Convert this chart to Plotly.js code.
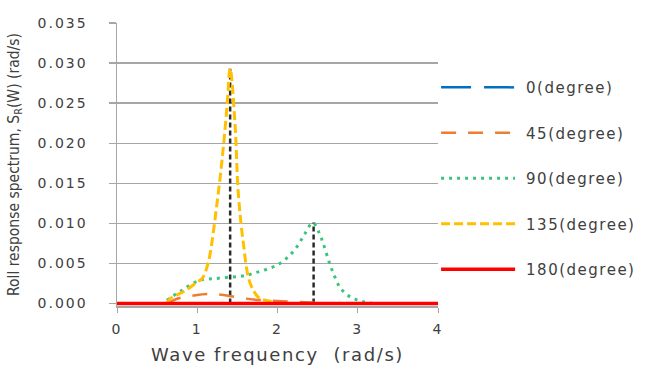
<!DOCTYPE html>
<html>
<head>
<meta charset="utf-8">
<script src="https://cdn.plot.ly/plotly-3.0.1.min.js"></script>
<style>
html,body{margin:0;padding:0;background:#fff;}
#chart{width:645px;height:379px;}
.ytick text, .xtick text {letter-spacing: 2px;}
.legendtext {letter-spacing: 1.5px; transform: translateX(6px);}
.g-xtitle text {letter-spacing: 1.6px;}
</style>
</head>
<body>
<div id="chart"></div>
<script>
// Series names
var seriesNames = ["0(degree)", "45(degree)", "90(degree)", "135(degree)", "180(degree)"];

// 0 degree (zero response, hidden under 180)
var x0 = [0, 4];
var y0 = [0, 0];

// 45 degree
var x45 = [0.62, 0.78, 0.95, 1.12, 1.3, 1.49, 1.7, 1.87, 2.05, 2.28, 2.5, 2.7];
var y45 = [0.0000, 0.0007, 0.0010, 0.0012, 0.0011, 0.0008, 0.0005, 0.0004, 0.0003, 0.0002, 0.0001, 0.0000];

// 90 degree
var x90 = [0.62, 0.8, 1.03, 1.2, 1.41, 1.6, 1.74, 1.9, 2.03, 2.15, 2.25, 2.34, 2.44, 2.52, 2.57, 2.65, 2.72, 2.78, 2.88, 2.98, 3.08, 3.19];
var y90 = [0.0004, 0.0016, 0.0029, 0.0031, 0.0033, 0.0035, 0.0039, 0.0044, 0.0050, 0.0060, 0.0072, 0.0087, 0.0101, 0.0088, 0.0075, 0.0050, 0.0032, 0.0020, 0.0010, 0.0005, 0.0002, 0.0000];

// 135 degree
var x135 = [0.62, 0.66, 0.85, 1.0, 1.06, 1.12, 1.16, 1.24, 1.31, 1.37, 1.41, 1.47, 1.51, 1.57, 1.66, 1.78, 1.86, 1.95];
var y135 = [0.0000, 0.0006, 0.0016, 0.0027, 0.0031, 0.0045, 0.0062, 0.0120, 0.0180, 0.0245, 0.0293, 0.0225, 0.0140, 0.0079, 0.0025, 0.0006, 0.0004, 0.0002];

// 180 degree
var x180 = [0, 4];
var y180 = [0, 0];

// Peak markers (black dashed verticals)
var peakX = [1.41, 2.45];
var peakY = [0.0293, 0.0101];

var yTicks = [0, 0.005, 0.010, 0.015, 0.020, 0.025, 0.030, 0.035];
var yTickText = ["0.000", "0.005", "0.010", "0.015", "0.020", "0.025", "0.030", "0.035"];
var xTicks = [0, 1, 2, 3, 4];
var xTickText = ["0", "1", "2", "3", "4"];

var peakXs = [], peakYs = [];
for (var i = 0; i < peakX.length; i++) {
  peakXs.push(peakX[i], peakX[i], null);
  peakYs.push(0, peakY[i], null);
}

var traces = [
  {x: peakXs, y: peakYs, mode: "lines", showlegend: false, hoverinfo: "skip",
   line: {color: "#2b2b2b", width: 2.5, dash: "5px,3px"}},
  {x: x0, y: y0, name: seriesNames[0], mode: "lines", legendgroup: "a",
   line: {color: "#0070c0", width: 2.5, dash: "30px,13px"}},
  {x: x45, y: y45, name: seriesNames[1], mode: "lines", legendgroup: "b", line: {color: "#ed7d31", width: 2.5, dash: "15px,12px", shape: "spline"}},
  {x: x90, y: y90, name: seriesNames[2], mode: "lines", legendgroup: "c", line: {color: "#3cc47c", width: 3, dash: "3px,5px", shape: "spline"}},
  {x: x135, y: y135, name: seriesNames[3], mode: "lines", legendgroup: "d", line: {color: "#ffc000", width: 3, dash: "9px,4px", shape: "spline"}},
  {x: x180, y: y180, name: seriesNames[4], mode: "lines", legendgroup: "e", line: {color: "#ff0000", width: 3.5}}
];

var fontColor = "#404040";
var layout = {
  width: 645, height: 379,
  margin: {l: 117, r: 207, t: 23, b: 73, autoexpand: false},
  paper_bgcolor: "#fff", plot_bgcolor: "#fff",
  font: {family: "DejaVu Sans", color: fontColor, size: 14},
  xaxis: {
    range: [0, 4], tickvals: xTicks, ticktext: xTickText,
    showgrid: false, zeroline: false, showline: true, linecolor: "#a6a6a6", linewidth: 1.5,
    ticks: "outside", ticklen: 5, tickcolor: "#a6a6a6", tickwidth: 1,
    ticklabelstandoff: 5,
    tickfont: {family: "DejaVu Sans", size: 14, color: fontColor},
    title: {text: "Wave frequency  (rad/s)", font: {family: "DejaVu Sans", size: 18, color: fontColor}, standoff: 12},
    fixedrange: true
  },
  yaxis: {
    range: [-0.0003, 0.035], tickvals: yTicks, ticktext: yTickText,
    showgrid: true, gridcolor: "#a6a6a6", gridwidth: 1.5, zeroline: false,
    showline: true, linecolor: "#a6a6a6", linewidth: 1.5,
    ticks: "outside", ticklen: 7, tickcolor: "#a6a6a6", tickwidth: 1.5,
    ticklabelstandoff: 18,
    tickfont: {family: "DejaVu Sans", size: 14, color: fontColor},
    title: {text: "Roll response spectrum, S<sub>R</sub>(W) (rad/s)", font: {family: "DejaVu Sans Condensed", size: 15.5, color: fontColor}, standoff: 14},
    fixedrange: true
  },
  showlegend: true,
  legend: {
    x: 0.994, xanchor: "left", y: 0.83, yanchor: "top",
    font: {family: "DejaVu Sans", size: 15, color: fontColor},
    tracegroupgap: 23, itemwidth: 74, bgcolor: "rgba(0,0,0,0)", traceorder: "grouped"
  }
};

Plotly.newPlot("chart", traces, layout, {staticPlot: true, displayModeBar: false});
</script>
</body>
</html>
